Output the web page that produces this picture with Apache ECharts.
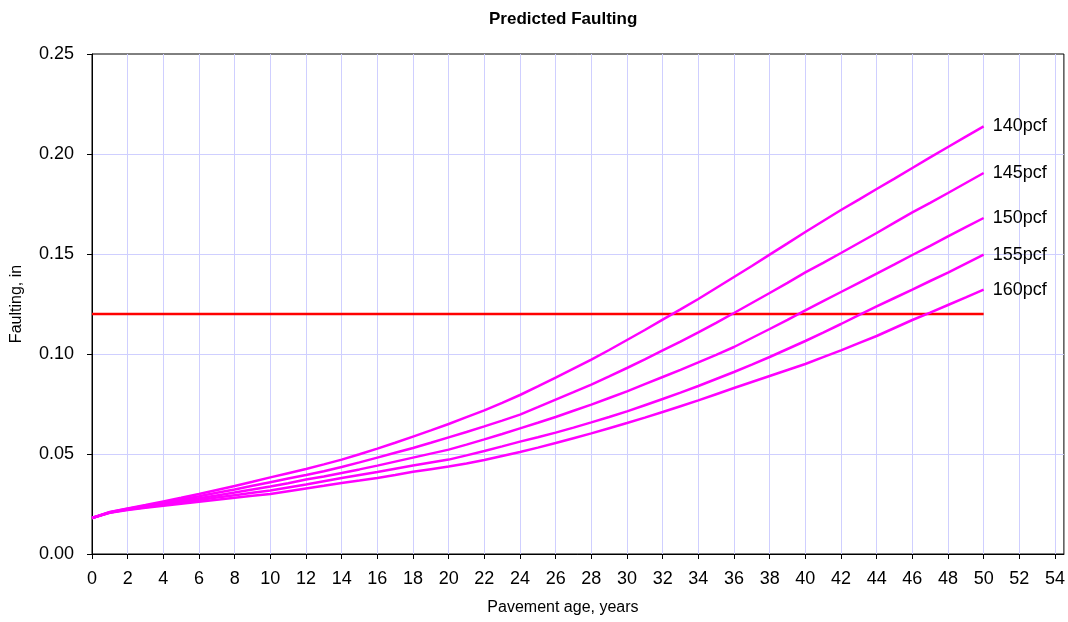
<!DOCTYPE html>
<html>
<head>
<meta charset="utf-8">
<script src="https://cdn.jsdelivr.net/npm/echarts@6/dist/echarts.min.js"></script>
<style>
  html, body { margin: 0; padding: 0; background: #fff; }
  #chart { width: 1068px; height: 622px; }
</style>
</head>
<body>
<div id="chart"></div>
<script>
// pavement age, years
var years = [0,1,2,3,4,5,6,7,8,9,10,11,12,13,14,15,16,17,18,19,20,21,22,23,24,25,
  26,27,28,29,30,31,32,33,34,35,36,37,38,39,40,41,42,43,44,45,46,47,48,49,50];

// predicted faulting, in (one list per PCC unit weight)
var f140 = [0.0180,0.0210,0.0228,0.0245,0.0263,0.0281,0.0300,0.0320,0.0340,0.0361,0.0383,
  0.0404,0.0425,0.0448,0.0472,0.0499,0.0527,0.0556,0.0587,0.0618,0.0650,
  0.0684,0.0718,0.0756,0.0795,0.0838,0.0882,0.0927,0.0972,0.1020,0.1070,
  0.1120,0.1172,0.1223,0.1275,0.1330,0.1385,0.1440,0.1497,0.1553,0.1610,
  0.1665,0.1720,0.1772,0.1825,0.1877,0.1930,0.1983,0.2035,0.2087,0.2138];
var f145 = [0.0180,0.0209,0.0226,0.0241,0.0257,0.0273,0.0289,0.0306,0.0323,0.0341,0.0359,
  0.0377,0.0395,0.0414,0.0435,0.0458,0.0482,0.0506,0.0530,0.0556,0.0583,
  0.0610,0.0638,0.0667,0.0697,0.0734,0.0772,0.0809,0.0847,0.0888,0.0930,
  0.0973,0.1018,0.1062,0.1108,0.1156,0.1205,0.1255,0.1305,0.1356,0.1408,
  0.1456,0.1505,0.1555,0.1605,0.1657,0.1708,0.1756,0.1805,0.1855,0.1905];
var f150 = [0.0180,0.0208,0.0224,0.0237,0.0251,0.0265,0.0279,0.0293,0.0307,0.0322,0.0337,
  0.0354,0.0372,0.0388,0.0405,0.0423,0.0442,0.0462,0.0482,0.0502,0.0522,
  0.0547,0.0573,0.0600,0.0628,0.0656,0.0685,0.0716,0.0747,0.0780,0.0813,
  0.0849,0.0885,0.0921,0.0958,0.0996,0.1035,0.1080,0.1125,0.1171,0.1218,
  0.1264,0.1310,0.1356,0.1402,0.1448,0.1495,0.1541,0.1588,0.1634,0.1680];
var f155 = [0.0180,0.0207,0.0222,0.0234,0.0246,0.0258,0.0270,0.0282,0.0294,0.0306,0.0318,
  0.0333,0.0348,0.0364,0.0380,0.0395,0.0410,0.0426,0.0442,0.0457,0.0472,
  0.0493,0.0515,0.0538,0.0562,0.0584,0.0607,0.0632,0.0658,0.0685,0.0713,
  0.0744,0.0775,0.0807,0.0840,0.0875,0.0910,0.0947,0.0985,0.1025,0.1065,
  0.1107,0.1150,0.1194,0.1238,0.1280,0.1322,0.1365,0.1407,0.1452,0.1497];
var f160 = [0.0180,0.0206,0.0220,0.0231,0.0241,0.0251,0.0261,0.0271,0.0281,0.0291,0.0300,
  0.0314,0.0328,0.0341,0.0355,0.0367,0.0380,0.0395,0.0411,0.0424,0.0437,
  0.0453,0.0470,0.0490,0.0510,0.0532,0.0555,0.0579,0.0603,0.0629,0.0655,
  0.0682,0.0710,0.0739,0.0768,0.0799,0.0830,0.0860,0.0890,0.0920,0.0950,
  0.0984,0.1018,0.1054,0.1090,0.1130,0.1170,0.1207,0.1245,0.1283,0.1322];

var seriesNames = ['140pcf', '145pcf', '150pcf', '155pcf', '160pcf'];
var seriesValues = [f140, f145, f150, f155, f160];

// faulting limit
var limitX = [0, 50];
var limitY = [0.12, 0.12];

var font = 'Liberation Sans, Arial, sans-serif';

function pairs(xs, ys) {
  return xs.map(function (x, i) { return [x, ys[i]]; });
}

var chart = echarts.init(document.getElementById('chart'));

var series = [{
  name: 'limit',
  type: 'line',
  data: pairs(limitX, limitY),
  symbol: 'none',
  lineStyle: { color: '#ff0000', width: 2.5 },
  z: 2
}];

seriesNames.forEach(function (name, i) {
  series.push({
    name: name,
    type: 'line',
    data: pairs(years, seriesValues[i]),
    symbol: 'none',
    lineStyle: { color: '#ff00ff', width: 2.5 },
    z: 3,
    endLabel: {
      show: true,
      formatter: name,
      color: '#000',
      fontFamily: font,
      fontSize: 18,
      distance: 9
    }
  });
});

var option = {
  animation: false,
  backgroundColor: '#fff',
  title: {
    text: 'Predicted Faulting',
    left: 484,
    top: 6,
    textStyle: { fontFamily: font, fontSize: 17, fontWeight: 'bold', color: '#000' }
  },
  grid: {
    left: 92,
    top: 54,
    right: 0,
    height: 500,
    show: true,
    borderColor: '#000',
    borderWidth: 1
  },
  xAxis: {
    type: 'value',
    min: 0,
    max: 54.5,
    interval: 2,
    name: 'Pavement age, years',
    nameLocation: 'middle',
    nameGap: 46,
    nameTextStyle: { fontFamily: font, fontSize: 16, color: '#000', padding: [0, 30, 0, 0] },
    axisLine: { lineStyle: { color: '#000', width: 1 } },
    axisTick: { show: true, length: 5, lineStyle: { color: '#000' } },
    axisLabel: { fontFamily: font, fontSize: 18, color: '#000', margin: 16, showMaxLabel: false },
    splitLine: { show: true, showMaxLine: false, lineStyle: { color: '#cfcfff', width: 1 } }
  },
  yAxis: {
    type: 'value',
    min: 0,
    max: 0.25,
    interval: 0.05,
    name: 'Faulting, in',
    nameLocation: 'middle',
    nameGap: 67,
    nameTextStyle: { fontFamily: font, fontSize: 16, color: '#000' },
    axisLine: { show: true, lineStyle: { color: '#000', width: 1 } },
    axisTick: { show: true, length: 5, lineStyle: { color: '#000' } },
    axisLabel: {
      fontFamily: font, fontSize: 18, color: '#000', margin: 18,
      formatter: function (v) { return v.toFixed(2); }
    },
    splitLine: { show: true, showMaxLine: false, lineStyle: { color: '#cfcfff', width: 1 } }
  },
  series: series
};

chart.setOption(option);
window.addEventListener('resize', function () {
  chart.resize();
});
</script>
</body>
</html>
